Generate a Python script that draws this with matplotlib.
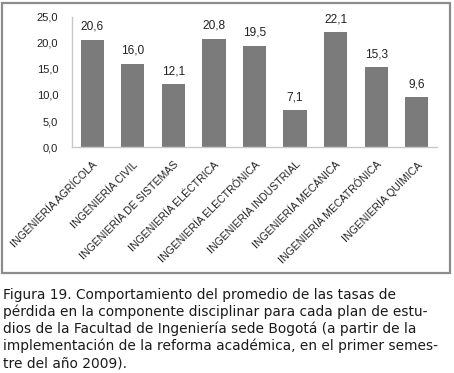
#!/usr/bin/env python3
"""
Bar chart: promedio de tasas de pérdida por plan de estudios (Figura 19).
Saves out.png
"""
import matplotlib
matplotlib.use('Agg')
import matplotlib.pyplot as plt
from matplotlib.patches import Rectangle
from matplotlib.ticker import FuncFormatter

CARRERAS = [
    'INGENIERÍA AGRÍCOLA',
    'INGENIERÍA CIVIL',
    'INGENIERÍA DE SISTEMAS',
    'INGENIERÍA ELÉCTRICA',
    'INGENIERÍA ELECTRÓNICA',
    'INGENIERÍA INDUSTRIAL',
    'INGENIERÍA MECÁNICA',
    'INGENIERÍA MECATRÓNICA',
    'INGENIERÍA QUÍMICA',
]
TASAS = [20.6, 16.0, 12.1, 20.8, 19.5, 7.1, 22.1, 15.3, 9.6]
Y_TICKS = [0, 5, 10, 15, 20, 25]

CAPTION = [
    'Figura 19. Comportamiento del promedio de las tasas de',
    'pérdida en la componente disciplinar para cada plan de estu-',
    'dios de la Facultad de Ingeniería sede Bogotá (a partir de la',
    'implementación de la reforma académica, en el primer semes-',
    'tre del año 2009).',
]

W, H = 454, 373
fig = plt.figure(figsize=(W / 100, H / 100), dpi=100)

# outer box of the chart area
fig.patches.append(Rectangle((2 / W, 1 - 273 / H), 448 / W, 270 / H,
                             transform=fig.transFigure, fill=False,
                             edgecolor='#8c8c8c', linewidth=1.6))

ax = fig.add_axes([72 / W, 1 - 147 / H, 365 / W, 130 / H])
x = range(len(TASAS))
bars = ax.bar(x, TASAS, width=0.57, color='#7b7b7b')
ax.set_xlim(-0.5, len(TASAS) - 0.5)
ax.set_ylim(0, 25)
ax.set_yticks(Y_TICKS)
comma = lambda v, _: f'{v:.1f}'.replace('.', ',')
ax.yaxis.set_major_formatter(FuncFormatter(comma))

for sp in ['top', 'right']:
    ax.spines[sp].set_visible(False)
for sp in ['left', 'bottom']:
    ax.spines[sp].set_color('#c8c8c8')
    ax.spines[sp].set_linewidth(1.0)

ax.tick_params(axis='y', length=0, pad=10, labelsize=8, labelcolor='#222222')
ax.tick_params(axis='x', length=0, pad=9, labelsize=7.6, labelcolor='#222222')
ax.set_xticks(list(x))
ax.set_xticklabels(CARRERAS, rotation=45, ha='right', rotation_mode='anchor')
for lbl in ax.get_xticklabels() + ax.get_yticklabels():
    lbl.set_family('Liberation Sans')

for b, v in zip(bars, TASAS):
    ax.annotate(comma(v, None), (b.get_x() + b.get_width() / 2, v),
                xytext=(0, 5), textcoords='offset points',
                ha='center', va='bottom', fontsize=8.6,
                family='Liberation Sans', color='#222222')

# caption below the chart box
cap_font = dict(fontsize=9.9, family='DejaVu Sans', color='#1a1a1a')
base_first, step = 298.5, 17.3
for i, line in enumerate(CAPTION):
    y = 1 - (base_first + i * step) / H
    fig.text(3 / W, y, line, va='baseline', ha='left', **cap_font)

fig.savefig('out.png', dpi=100)
